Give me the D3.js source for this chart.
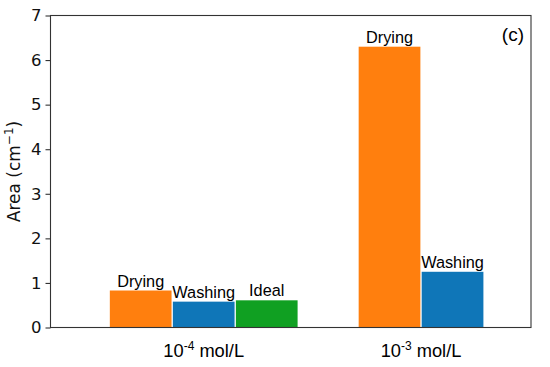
<!DOCTYPE html>
<html><head><meta charset="utf-8">
<script src="https://cdn.jsdelivr.net/npm/d3@7"></script>
<style>body{margin:0;background:#fff}svg{display:block}</style>
</head><body>
<svg id="c" width="550" height="367"></svg>
<script>
const groups = ["1e-4", "1e-3"];
const groupBase = ["10", "10"];
const groupExp = ["-4", "-3"];
const groupUnit = [" mol/L", " mol/L"];
const seriesNames = ["Drying", "Washing", "Ideal"];
const seriesColors = ["#ff7f0e", "#0f76b8", "#10a022"];
const values1e4 = [0.83, 0.58, 0.61];
const values1e3 = [6.3, 1.25];
const yTicks = [0, 1, 2, 3, 4, 5, 6, 7];

const svg = d3.select("#c");
const L = 50.5, R = 531, T = 15.5, B = 327.5;
const x = d3.scaleLinear().domain([-0.705, 1.506]).range([L, R]);
const y = d3.scaleLinear().domain([0, 7]).range([B, T]);
const step = 0.29, bw = 0.284;

const bars = [];
[values1e4, values1e3].forEach((vals, gi) => {
  const n = vals.length;
  vals.forEach((v, i) => {
    bars.push({g: gi, s: i, v: v, cx: gi + (i - (n - 1) / 2) * step});
  });
});

svg.append("g").selectAll("rect").data(bars).join("rect")
  .attr("x", d => x(d.cx - bw / 2))
  .attr("width", d => x(bw) - x(0))
  .attr("y", d => y(d.v))
  .attr("height", d => y(0) - y(d.v))
  .attr("fill", d => seriesColors[d.s]);

svg.append("g").selectAll("text").data(bars).join("text")
  .attr("x", d => x(d.cx))
  .attr("y", d => y(d.v) - 4)
  .attr("text-anchor", "middle")
  .attr("font-family", "Liberation Sans, Arial, sans-serif")
  .attr("font-size", 16.3)
  .attr("fill", "#000")
  .text(d => seriesNames[d.s]);

// frame
svg.append("rect").attr("x", L).attr("y", T).attr("width", R - L).attr("height", B - T)
  .attr("fill", "none").attr("stroke", "#333").attr("stroke-width", 1.1);

// y axis
const ya = svg.append("g").attr("transform", `translate(${L},0)`)
  .call(d3.axisLeft(y).tickValues(yTicks).tickSize(5).tickPadding(4).tickFormat(d3.format("d")));
ya.select(".domain").remove();
ya.selectAll("line").attr("stroke", "#333").attr("stroke-width", 1.1);
ya.selectAll("text").attr("font-family", "DejaVu Sans, sans-serif").attr("font-size", 16.5).attr("fill", "#111");

// y label
const yl = svg.append("text").attr("transform", `translate(20,${(T + B) / 2}) rotate(-90)`)
  .attr("text-anchor", "middle").attr("font-family", "DejaVu Sans, sans-serif")
  .attr("font-size", 17).attr("fill", "#111");
yl.append("tspan").text("Area (cm");
yl.append("tspan").attr("dy", -7).attr("font-size", 12).text("\u22121");
yl.append("tspan").attr("dy", 7).text(")");

// group labels
groups.forEach((g, gi) => {
  const t = svg.append("text").attr("x", x(gi)).attr("y", 357).attr("text-anchor", "middle")
    .attr("font-family", "Liberation Sans, Arial, sans-serif").attr("font-size", 18.3).attr("fill", "#000");
  t.append("tspan").text(groupBase[gi]);
  t.append("tspan").attr("dy", -7).attr("font-size", 12).text(groupExp[gi]);
  t.append("tspan").attr("dy", 7).text(groupUnit[gi]);
});

svg.append("text").attr("x", 524).attr("y", 41).attr("text-anchor", "end")
  .attr("font-family", "Liberation Sans, Arial, sans-serif").attr("font-size", 19).text("(c)");
</script>
</body></html>
